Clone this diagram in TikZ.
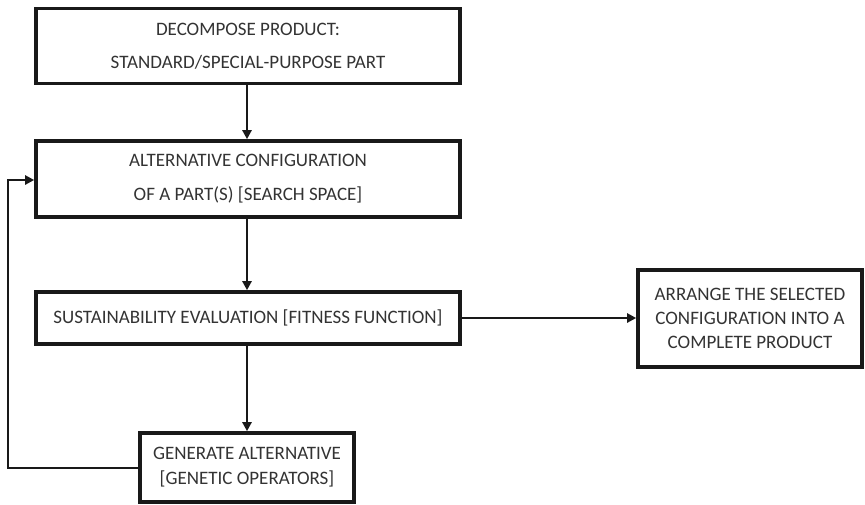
\documentclass[tikz,border=0pt]{standalone}
\usepackage{fontspec}
\setmainfont{Carlito}
\usetikzlibrary{arrows.meta}
\begin{document}
\begin{tikzpicture}[x=1pt,y=-1pt,
  box/.style={draw=black!90,line width=3.6pt,rectangle,inner sep=0pt,align=center,text=black!80},
  conn/.style={line width=2.8pt,draw=black!90,-{Triangle[length=9pt,width=9pt]}},
  plain/.style={line width=2.8pt,draw=black!90}]
\useasboundingbox (0,0) rectangle (865,504);
\node[box,minimum width=424pt,minimum height=75pt,font=\fontsize{19}{33}\selectfont] (b1) at (248,46) {DECOMPOSE PRODUCT:\\STANDARD/SPECIAL-PURPOSE PART};
\node[box,minimum width=424pt,minimum height=76pt,font=\fontsize{19}{34}\selectfont] (b2) at (248,179) {ALTERNATIVE CONFIGURATION\\OF A PART(S) [SEARCH SPACE]};
\node[box,minimum width=424pt,minimum height=52pt,font=\fontsize{19}{20}\selectfont] (b3) at (248,318) {SUSTAINABILITY EVALUATION [FITNESS FUNCTION]};
\node[box,minimum width=214pt,minimum height=69pt,font=\fontsize{19}{25}\selectfont] (b4) at (247,467.5) {GENERATE ALTERNATIVE\\{}[GENETIC OPERATORS]};
\node[box,minimum width=224pt,minimum height=97pt,font=\fontsize{19}{24}\selectfont] (b5) at (750,318.5) {ARRANGE THE SELECTED\\CONFIGURATION INTO A\\COMPLETE PRODUCT};
\coordinate (c1) at (8,468);
\coordinate (c2) at (8,180);
\draw[conn] (b1.south -| 247,0) -- (b2.north -| 247,0);
\draw[conn] (b2.south -| 247,0) -- (b3.north -| 247,0);
\draw[conn] (b3.south -| 247,0) -- (b4.north -| 247,0);
\draw[conn] (b3.east) -- (b3.east -| b5.west);
\draw[conn] (b4.west |- c1) -- (c1) -- (c2) -- (b2.west |- c2);
\end{tikzpicture}
\end{document}
